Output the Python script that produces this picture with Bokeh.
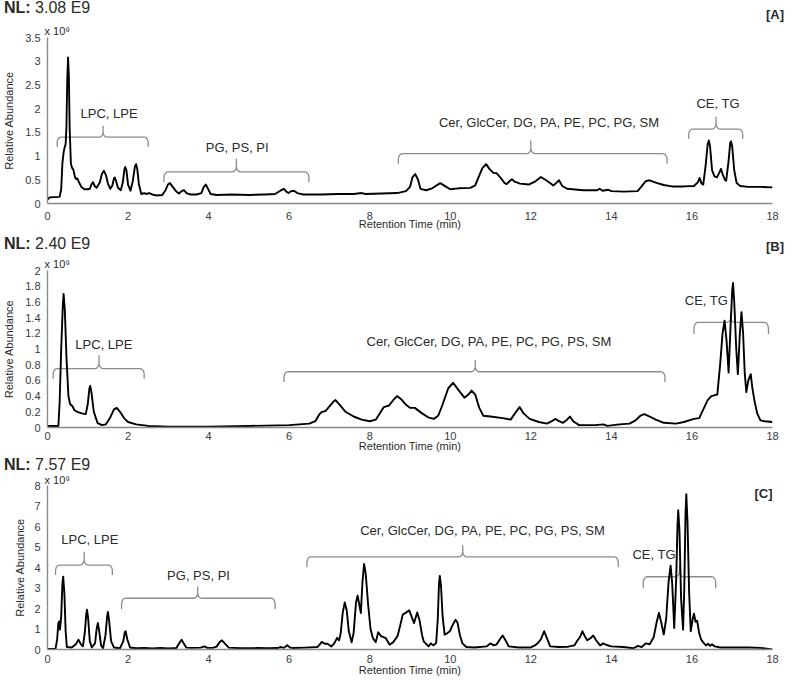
import math
from bokeh.plotting import figure
from bokeh.layouts import column
from bokeh.models import Range1d, FixedTicker, NumeralTickFormatter, ColumnDataSource, Div
from bokeh.core.properties import value
from bokeh.embed import file_html
from bokeh.resources import INLINE

FONT = "Liberation Sans"
TXT = "#2a2a2a"
W = 796

# ---------------- Panel A ----------------
A_time = [0.00, 0.05, 0.30, 0.34, 0.37, 0.40, 0.43, 0.45, 0.47, 0.49, 0.51, 0.53, 0.55, 0.58, 0.61, 0.64,
          0.67, 0.70, 0.74, 0.78, 0.84, 0.92, 1.00, 1.05, 1.09, 1.13, 1.17, 1.22, 1.30, 1.35, 1.40, 1.45,
          1.50, 1.56, 1.61, 1.65, 1.67, 1.70, 1.75, 1.82, 1.87, 1.91, 1.93, 1.96, 2.00, 2.06, 2.12, 2.17,
          2.20, 2.23, 2.27, 2.33, 2.40, 2.45, 2.52, 2.60, 2.70, 2.85, 2.93, 2.99, 3.04, 3.10, 3.18, 3.26,
          3.33, 3.39, 3.45, 3.55, 3.70, 3.82, 3.88, 3.93, 3.98, 4.05, 4.20, 4.60, 5.00, 5.40, 5.65, 5.78,
          5.87, 5.93, 5.98, 6.05, 6.12, 6.20, 6.35, 6.80, 7.20, 7.60, 7.80, 7.90, 8.30, 8.68, 8.90, 9.00,
          9.06, 9.13, 9.20, 9.26, 9.40, 9.55, 9.75, 9.90, 10.00, 10.20, 10.50, 10.62, 10.70, 10.80, 10.89,
          10.98, 11.08, 11.15, 11.25, 11.35, 11.40, 11.47, 11.53, 11.60, 11.73, 11.95, 12.10, 12.25, 12.40,
          12.56, 12.64, 12.70, 12.78, 12.90, 13.30, 13.65, 13.71, 13.78, 13.92, 14.00, 14.30, 14.65, 14.75,
          14.85, 14.95, 15.10, 15.30, 15.50, 15.80, 16.05, 16.15, 16.19, 16.24, 16.28, 16.34, 16.39, 16.42,
          16.45, 16.50, 16.56, 16.62, 16.68, 16.72, 16.76, 16.82, 16.85, 16.91, 16.95, 16.97, 17.00, 17.05,
          17.11, 17.20, 17.40, 17.70, 18.00]
A_abund = [0.08, 0.13, 0.14, 0.30, 0.85, 1.08, 1.20, 1.25, 1.60, 2.60, 3.08, 2.70, 1.60, 0.85, 0.75, 0.72,
           0.60, 0.52, 0.53, 0.45, 0.35, 0.30, 0.30, 0.31, 0.40, 0.45, 0.37, 0.33, 0.45, 0.62, 0.69, 0.60,
           0.42, 0.31, 0.38, 0.53, 0.55, 0.48, 0.33, 0.28, 0.45, 0.72, 0.77, 0.70, 0.40, 0.27, 0.48, 0.78,
           0.83, 0.72, 0.40, 0.20, 0.22, 0.20, 0.22, 0.19, 0.17, 0.18, 0.28, 0.40, 0.43, 0.36, 0.27, 0.21,
           0.26, 0.28, 0.22, 0.19, 0.19, 0.22, 0.35, 0.40, 0.32, 0.20, 0.18, 0.19, 0.18, 0.19, 0.20, 0.27,
           0.31, 0.25, 0.22, 0.26, 0.27, 0.22, 0.19, 0.19, 0.20, 0.20, 0.22, 0.20, 0.21, 0.22, 0.26, 0.35,
           0.55, 0.62, 0.50, 0.31, 0.28, 0.32, 0.43, 0.35, 0.30, 0.32, 0.33, 0.38, 0.55, 0.75, 0.83,
           0.72, 0.64, 0.64, 0.54, 0.43, 0.41, 0.47, 0.51, 0.46, 0.42, 0.40, 0.46, 0.56, 0.48,
           0.38, 0.44, 0.49, 0.37, 0.31, 0.28, 0.28, 0.31, 0.27, 0.29, 0.26, 0.25, 0.26, 0.36,
           0.47, 0.49, 0.44, 0.39, 0.36, 0.36, 0.37, 0.45, 0.54, 0.42, 0.40, 0.80, 1.25, 1.33,
           1.20, 0.70, 0.57, 0.55, 0.65, 0.73, 0.62, 0.50, 0.48, 0.90, 1.28, 1.31, 1.20, 0.70,
           0.43, 0.37, 0.35, 0.35, 0.34]
A_yticks = [0, 0.5, 1, 1.5, 2, 2.5, 3, 3.5]
A_nl = "3.08 E9"
A_tag = "[A]"
A_br_text = ["LPC, LPE", "PG, PS, PI", "Cer, GlcCer, DG, PA, PE, PC, PG, SM", "CE, TG"]
A_br_left = [0.24, 2.89, 8.71, 15.92]
A_br_right = [2.50, 6.49, 15.38, 17.26]
A_br_mid = [1.38, 4.69, 12.00, 16.60]
A_br_line = [1.40, 0.665, 1.05, 1.57]
A_br_hook = [1.19, 0.45, 0.84, 1.36]
A_br_top = [1.64, 0.945, 1.33, 1.83]
A_lab_x = [1.53, 4.71, 12.45, 16.65]
A_lab_y = [1.89, 1.19, 1.71, 2.11]

# ---------------- Panel B ----------------
B_time = [0.00, 0.27, 0.30, 0.34, 0.38, 0.40, 0.43, 0.47, 0.52, 0.56, 0.62, 0.67, 0.74, 0.85, 0.95, 1.00,
          1.04, 1.06, 1.09, 1.15, 1.24, 1.35, 1.45, 1.55, 1.65, 1.72, 1.80, 1.90, 2.00, 2.20, 2.50, 3.00,
          4.00, 5.00, 6.00, 6.50, 6.65, 6.75, 6.82, 6.90, 7.00, 7.10, 7.15, 7.25, 7.40, 7.60, 7.80, 8.00,
          8.15, 8.25, 8.35, 8.48, 8.60, 8.68, 8.78, 8.88, 9.00, 9.12, 9.30, 9.45, 9.59, 9.70, 9.80, 9.95,
          10.07, 10.20, 10.35, 10.45, 10.53, 10.62, 10.72, 10.82, 11.00, 11.30, 11.50, 11.62, 11.72, 11.82,
          11.97, 12.20, 12.40, 12.52, 12.61, 12.70, 12.80, 12.90, 12.97, 13.05, 13.20, 13.60, 13.80, 13.90,
          14.20, 14.45, 14.60, 14.72, 14.82, 14.95, 15.10, 15.30, 15.60, 15.80, 16.05, 16.18, 16.30, 16.39,
          16.48, 16.55, 16.63, 16.70, 16.76, 16.81, 16.86, 16.91, 16.96, 17.00, 17.02, 17.05, 17.10, 17.14,
          17.19, 17.23, 17.27, 17.31, 17.35, 17.40, 17.46, 17.50, 17.56, 17.62, 17.70, 17.80, 18.00]
B_abund = [0.02, 0.02, 0.30, 1.00, 1.55, 1.70, 1.50, 0.90, 0.40, 0.30, 0.27, 0.22, 0.20, 0.18, 0.17, 0.30,
           0.50, 0.53, 0.45, 0.20, 0.06, 0.03, 0.04, 0.12, 0.23, 0.25, 0.20, 0.12, 0.07, 0.04, 0.02, 0.01,
           0.01, 0.02, 0.03, 0.05, 0.08, 0.17, 0.20, 0.21, 0.27, 0.33, 0.35, 0.29, 0.20, 0.14, 0.10, 0.08,
           0.10, 0.18, 0.26, 0.28, 0.36, 0.40, 0.36, 0.30, 0.25, 0.25, 0.18, 0.13, 0.11, 0.15, 0.28, 0.50,
           0.57, 0.48, 0.38, 0.42, 0.47, 0.42, 0.25, 0.15, 0.14, 0.12, 0.10, 0.19, 0.26, 0.18,
           0.11, 0.07, 0.05, 0.08, 0.11, 0.08, 0.06, 0.10, 0.14, 0.08, 0.03, 0.03, 0.04, 0.02,
           0.04, 0.05, 0.09, 0.15, 0.17, 0.14, 0.10, 0.06, 0.05, 0.07, 0.11, 0.12, 0.25, 0.35,
           0.40, 0.41, 0.42, 0.80, 1.20, 1.36, 1.10, 0.70, 1.30, 1.75, 1.84, 1.60, 1.00, 0.68,
           1.20, 1.47, 1.20, 0.70, 0.45, 0.60, 0.68, 0.50, 0.32, 0.18, 0.09, 0.08, 0.07]
B_yticks = [0, 0.2, 0.4, 0.6, 0.8, 1, 1.2, 1.4, 1.6, 1.8, 2]
B_nl = "2.40 E9"
B_tag = "[B]"
B_br_text = ["LPC, LPE", "Cer, GlcCer, DG, PA, PE, PC, PG, PS, SM", "CE, TG"]
B_br_left = [0.14, 5.87, 16.05]
B_br_right = [2.40, 15.33, 17.90]
B_br_mid = [1.28, 10.62, 16.96]
B_br_line = [0.75, 0.71, 1.34]
B_br_hook = [0.62, 0.58, 1.19]
B_br_top = [0.92, 0.86, 1.46]
B_lab_x = [1.40, 10.96, 16.36]
B_lab_y = [1.06, 1.09, 1.62]

# ---------------- Panel C ----------------
C_time = [0.00, 0.20, 0.24, 0.27, 0.29, 0.31, 0.34, 0.37, 0.39, 0.42, 0.45, 0.48, 0.60, 0.70, 0.77, 0.83,
          0.88, 0.93, 0.96, 0.98, 1.01, 1.05, 1.10, 1.18, 1.22, 1.25, 1.28, 1.33, 1.38, 1.44, 1.48, 1.50,
          1.53, 1.58, 1.65, 1.80, 1.88, 1.92, 1.94, 1.98, 2.05, 2.20, 2.40, 2.60, 2.80, 3.00, 3.20, 3.27,
          3.33, 3.38, 3.45, 3.60, 3.80, 3.90, 3.97, 4.10, 4.20, 4.27, 4.33, 4.40, 4.50, 4.80, 5.20, 5.50,
          5.70, 5.80, 5.87, 5.95, 6.02, 6.10, 6.40, 6.70, 6.76, 6.81, 6.88, 6.95, 7.05, 7.12, 7.19, 7.24,
          7.28, 7.33, 7.38, 7.43, 7.48, 7.55, 7.60, 7.66, 7.70, 7.74, 7.78, 7.82, 7.86, 7.90, 7.96, 8.02,
          8.08, 8.15, 8.21, 8.28, 8.40, 8.49, 8.58, 8.69, 8.76, 8.82, 8.90, 8.98, 9.04, 9.10, 9.18, 9.24,
          9.30, 9.34, 9.46, 9.52, 9.58, 9.65, 9.69, 9.72, 9.74, 9.77, 9.81, 9.86, 9.93, 9.99, 10.06, 10.13,
          10.18, 10.24, 10.30, 10.40, 10.60, 10.90, 11.00, 11.08, 11.15, 11.25, 11.30, 11.37, 11.45, 11.70,
          12.00, 12.10, 12.17, 12.25, 12.33, 12.40, 12.48, 12.70, 12.90, 13.08, 13.16, 13.22, 13.28, 13.34,
          13.40, 13.48, 13.55, 13.62, 13.72, 13.80, 13.88, 14.00, 14.30, 14.55, 14.66, 14.75, 14.86, 14.95,
          15.05, 15.12, 15.18, 15.24, 15.30, 15.36, 15.42, 15.47, 15.51, 15.56, 15.61, 15.64, 15.66, 15.69,
          15.73, 15.78, 15.81, 15.84, 15.86, 15.89, 15.93, 15.97, 16.02, 16.05, 16.09, 16.13, 16.18, 16.23,
          16.30, 16.35, 16.40, 16.45, 16.50, 16.57, 16.70, 17.00, 17.40, 17.70, 17.85, 18.00]
C_abund = [0.03, 0.04, 0.50, 1.30, 1.37, 0.97, 1.60, 3.20, 3.55, 2.70, 0.90, 0.12, 0.10, 0.25, 0.48, 0.25,
           0.15, 0.90, 1.70, 1.94, 1.50, 0.40, 0.10, 0.30, 1.00, 1.29, 0.95, 0.20, 0.07, 0.70, 1.60, 1.83,
           1.40, 0.40, 0.10, 0.06, 0.40, 0.85, 0.89, 0.50, 0.10, 0.06, 0.08, 0.05, 0.07, 0.05, 0.07, 0.30,
           0.48, 0.30, 0.09, 0.08, 0.09, 0.15, 0.08, 0.08, 0.14, 0.35, 0.45, 0.30, 0.09, 0.06, 0.07, 0.06,
           0.07, 0.12, 0.08, 0.21, 0.10, 0.07, 0.09, 0.12, 0.25, 0.37, 0.28, 0.28, 0.15, 0.30, 0.57, 0.45,
           0.80, 1.80, 2.29, 1.90, 0.90, 0.35, 0.80, 2.30, 2.63, 2.20, 1.78, 3.30, 4.17, 3.70, 2.20, 1.00,
           0.55, 0.36, 0.84, 0.65, 0.55, 0.24, 0.35, 0.65, 1.20, 1.70, 1.80, 1.91, 1.60, 1.29, 1.81, 1.40,
           0.70, 0.40, 0.15, 0.30, 0.20, 0.32, 1.50, 3.20, 3.59, 3.10, 1.60, 0.73, 0.80, 0.89, 1.20, 1.45,
           1.30, 0.70, 0.30, 0.12, 0.10, 0.15, 0.30, 0.20, 0.25, 0.55, 0.68, 0.45, 0.15, 0.10,
           0.10, 0.20, 0.30, 0.50, 0.89, 0.55, 0.15, 0.12, 0.13, 0.20, 0.45, 0.60, 0.89, 0.65,
           0.45, 0.55, 0.68, 0.45, 0.20, 0.30, 0.22, 0.15, 0.12, 0.06, 0.18, 0.12, 0.30, 0.25,
           0.60, 1.30, 1.78, 1.30, 0.73, 1.50, 3.30, 4.09, 3.20, 1.05, 3.50, 6.00, 6.79, 5.80,
           2.50, 0.97, 3.00, 6.60, 7.57, 6.20, 2.80, 0.89, 1.50, 1.75, 1.35, 1.40, 0.80, 0.48,
           0.30, 0.20, 0.28, 0.18, 0.25, 0.15, 0.10, 0.10, 0.10, 0.08, 0.04, 0.00]
C_yticks = [0, 1, 2, 3, 4, 5, 6, 7, 8]
C_nl = "7.57 E9"
C_tag = "[C]"
C_br_text = ["LPC, LPE", "PG, PS, PI", "Cer, GlcCer, DG, PA, PE, PC, PG, PS, SM", "CE, TG"]
C_br_left = [0.20, 1.84, 6.44, 14.79]
C_br_right = [1.61, 5.65, 14.17, 16.59]
C_br_mid = [0.91, 3.73, 10.31, 15.69]
C_br_line = [4.12, 2.50, 4.52, 3.55]
C_br_hook = [3.63, 1.97, 4.01, 2.99]
C_br_top = [4.77, 3.07, 5.09, 4.15]
C_lab_x = [1.05, 3.75, 10.80, 15.06]
C_lab_y = [5.36, 3.63, 5.82, 4.61]

X_ticks = [0, 2, 4, 6, 8, 10, 12, 14, 16, 18]
X_title = "Retention Time (min)"
Y_title = "Relative Abundance"
SCALE_TXT = "x 10\u2079"


def bracket_path(left, right, mid, line_y, hook_y, top_y, rx=0.1):
    ry = 0.55 * (line_y - hook_y)
    ry2 = 0.45 * (top_y - line_y)
    xs, ys = [left], [hook_y]
    n = 6
    for k in range(n + 1):
        a = math.pi - (math.pi / 2) * k / n
        xs.append(left + rx + rx * math.cos(a)); ys.append(line_y - ry + ry * math.sin(a))
    for k in range(n + 1):
        a = -math.pi / 2 + (math.pi / 2) * k / n
        xs.append(mid - rx + rx * math.cos(a)); ys.append(line_y + ry2 + ry2 * math.sin(a))
    xs.append(mid); ys.append(top_y)
    xs.append(mid); ys.append(line_y + ry2)
    for k in range(n + 1):
        a = math.pi + (math.pi / 2) * k / n
        xs.append(mid + rx + rx * math.cos(a)); ys.append(line_y + ry2 + ry2 * math.sin(a))
    for k in range(n + 1):
        a = math.pi / 2 - (math.pi / 2) * k / n
        xs.append(right - rx + rx * math.cos(a)); ys.append(line_y - ry + ry * math.sin(a))
    xs.append(right); ys.append(hook_y)
    return xs, ys


def header(nl, tag, h, nl_pad, tag_pad):
    tag_html = ""
    if tag:
        tag_html = (f'<span style="display:block;margin-top:{tag_pad}px;font-size:13px;'
                    f'line-height:14px;font-weight:bold;">{tag}</span>')
    html = (f'<div style="display:flex;justify-content:space-between;align-items:flex-start;'
            f'width:{W - 8}px;height:{h}px;padding-left:4px;padding-right:4px;'
            f'font-family:\'Liberation Sans\',Arial,sans-serif;color:{TXT};">'
            f'<span style="display:block;margin-top:{nl_pad}px;font-size:16px;line-height:16px;'
            f'white-space:nowrap;"><b>NL:</b> {nl}</span>{tag_html}</div>')
    return Div(text=html, width=W, height=h, margin=0)


def make_panel(cfg):
    p = figure(width=W, height=cfg["height"], output_backend="svg", toolbar_location=None,
               x_range=Range1d(0, 18), y_range=Range1d(0, cfg["ymax"]),
               min_border_left=cfg["bl"], min_border_right=W - cfg["bl"] - cfg["fw"],
               min_border_top=0, min_border_bottom=cfg["bb"])
    p.title.text = SCALE_TXT
    p.title.align = "left"
    p.title.offset = -3
    p.title.standoff = cfg["tstand"]
    p.title.text_font = FONT
    p.title.text_font_size = "11px"
    p.title.text_font_style = "normal"
    p.title.text_color = TXT
    p.outline_line_color = None
    p.xgrid.visible = False
    p.ygrid.visible = False

    p.xaxis.ticker = FixedTicker(ticks=X_ticks)
    p.xaxis.formatter = NumeralTickFormatter(format="0")
    p.yaxis.ticker = FixedTicker(ticks=cfg["yticks"])
    p.yaxis.formatter = NumeralTickFormatter(format="0.[0]")
    for ax in (p.xaxis, p.yaxis):
        ax.major_tick_line_color = None
        ax.minor_tick_line_color = None
        ax.major_tick_out = 0
        ax.major_tick_in = 0
        ax.major_label_text_font = FONT
        ax.major_label_text_font_size = "11px"
        ax.major_label_text_color = "#3a3a3a"
        ax.axis_label_text_font = FONT
        ax.axis_label_text_font_size = "11px"
        ax.axis_label_text_font_style = "normal"
        ax.axis_label_text_color = TXT
    p.xaxis.axis_label = X_title
    p.yaxis.axis_label = Y_title
    p.xaxis.major_label_standoff = cfg["xs1"]
    p.xaxis.axis_label_standoff = cfg["xs2"]
    p.yaxis.major_label_standoff = 7
    p.yaxis.axis_label_standoff = cfg["ys2"]
    p.xaxis.axis_line_color = "#8a8a8a"
    p.xaxis.axis_line_width = 1.6
    p.yaxis.axis_line_color = "#8a8a8a"
    p.yaxis.axis_line_width = 1.4

    bxs, bys = [], []
    for l, r, m, ly, hy, ty in zip(cfg["bl_"], cfg["br"], cfg["bm"], cfg["bline"], cfg["bhook"], cfg["btop"]):
        xs, ys = bracket_path(l, r, m, ly, hy, ty)
        bxs.append(xs); bys.append(ys)
    p.multi_line(bxs, bys, line_color="#8c8c8c", line_width=1.3)

    p.line(cfg["t"], cfg["v"], line_color="black", line_width=1.9, line_join="round")

    src = ColumnDataSource(dict(x=cfg["lx"], y=cfg["ly"], text=cfg["texts"]))
    p.text(x="x", y="y", text="text", source=src, text_font=value(FONT), text_font_size="13px",
           text_align="center", text_baseline="middle", text_color=TXT)
    return p


hA = header(A_nl, A_tag, 22, 0, 8)
pA = make_panel(dict(height=214, ymax=3.5, bl=43, fw=734, bb=33, tstand=1, yticks=A_yticks,
                     t=A_time, v=A_abund, bl_=A_br_left, br=A_br_right, bm=A_br_mid,
                     bline=A_br_line, bhook=A_br_hook, btop=A_br_top, lx=A_lab_x, ly=A_lab_y,
                     texts=A_br_text, xs1=8, xs2=-5, ys2=7))
hB = header(B_nl, B_tag, 19, 0, 4)
pB = make_panel(dict(height=203, ymax=2.0, bl=43, fw=729, bb=31, tstand=1, yticks=B_yticks,
                     t=B_time, v=B_abund, bl_=B_br_left, br=B_br_right, bm=B_br_mid,
                     bline=B_br_line, bhook=B_br_hook, btop=B_br_top, lx=B_lab_x, ly=B_lab_y,
                     texts=B_br_text, xs1=4, xs2=-3, ys2=7))
hC = header(C_nl, None, 13, -1, 0)
pC = make_panel(dict(height=211, ymax=8.0, bl=40, fw=745, bb=33, tstand=0, yticks=C_yticks,
                     t=C_time, v=C_abund, bl_=C_br_left, br=C_br_right, bm=C_br_mid,
                     bline=C_br_line, bhook=C_br_hook, btop=C_br_top, lx=C_lab_x, ly=C_lab_y,
                     texts=C_br_text, xs1=5, xs2=-2, ys2=5))
pC.text(x=[X_ticks[-1]], y=[C_yticks[-1]], text=[C_tag], text_font=value(FONT), text_font_size="13px",
        text_font_style="bold", text_align="right", text_baseline="top", text_color=TXT)

layout = column(hA, pA, hB, pB, hC, pC, spacing=0)
open("out.html", "w").write(file_html(layout, INLINE))
